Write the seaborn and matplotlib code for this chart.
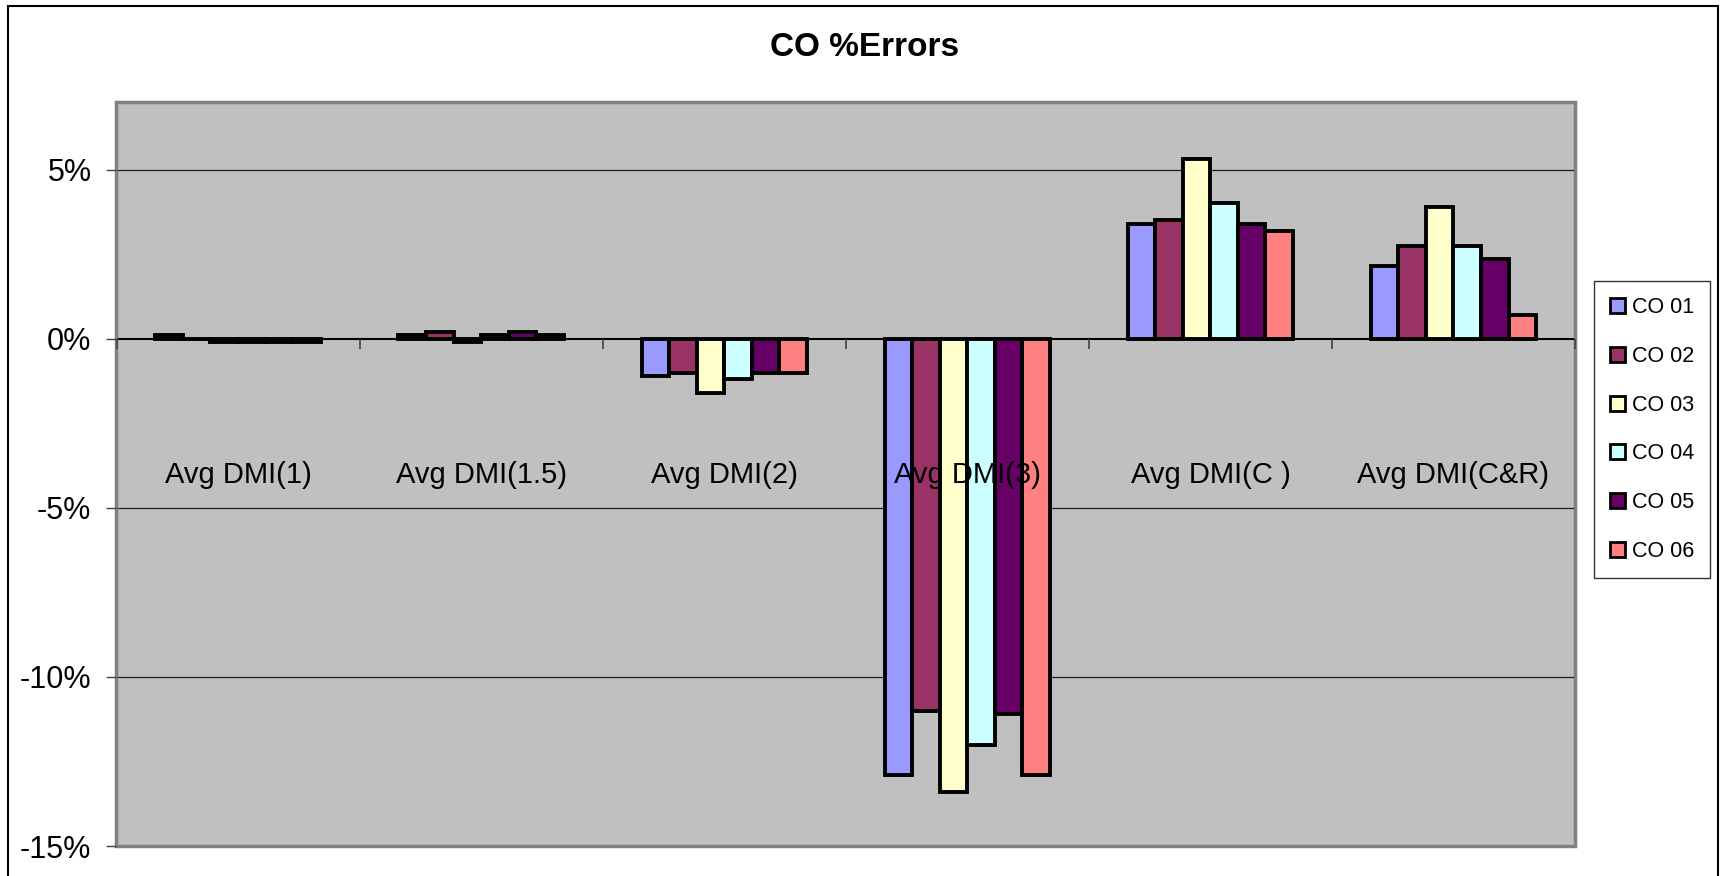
import matplotlib
matplotlib.use('Agg')
import matplotlib.pyplot as plt
from matplotlib.patches import Rectangle, Patch
import numpy as np
import pandas as pd
import seaborn as sns

plt.rcParams['font.family'] = ['Liberation Sans', 'DejaVu Sans']

categories = ['Avg DMI(1)', 'Avg DMI(1.5)', 'Avg DMI(2)', 'Avg DMI(3)', 'Avg DMI(C )', 'Avg DMI(C&R)']
series = ['CO 01', 'CO 02', 'CO 03', 'CO 04', 'CO 05', 'CO 06']

co01 = [0.1, 0.1, -1.1, -12.9, 3.4, 2.15]
co02 = [0.0, 0.2, -1.0, -11.0, 3.5, 2.75]
co03 = [-0.1, -0.1, -1.6, -13.4, 5.3, 3.9]
co04 = [-0.1, 0.1, -1.2, -12.0, 4.0, 2.75]
co05 = [-0.1, 0.2, -1.0, -11.1, 3.4, 2.35]
co06 = [-0.1, 0.1, -1.0, -12.9, 3.2, 0.7]

colors = ['#9999FF', '#993366', '#FFFFCC', '#CCFFFF', '#660066', '#FF8080']
yticks = [-15, -10, -5, 0, 5]

values = [co01, co02, co03, co04, co05, co06]
df = pd.DataFrame({
    'category': np.tile(categories, len(series)),
    'series': np.repeat(series, len(categories)),
    'value': np.concatenate(values),
})

W, H = 1723, 876
fig = plt.figure(figsize=(W / 100, H / 100), dpi=100)
ax = fig.add_axes([116.5 / W, 1 - 846 / H, (1575 - 116.5) / W, (846 - 102) / H])
ax.set_facecolor('#C0C0C0')

sns.barplot(data=df, x='category', y='value', hue='series', order=categories,
            hue_order=series, palette=colors, width=0.68, edgecolor='black',
            linewidth=2.8, saturation=1, errorbar=None, legend=False, ax=ax,
            zorder=2)
# category labels sit on top of the bars, as in the original
ax.set_axisbelow(False)

ax.set_xlim(-0.5, len(categories) - 0.5)
ax.set_ylim(-15, 7)

# grid
for y in yticks:
    if y not in (0, -15):
        ax.axhline(y, color='#202020', linewidth=0.9, zorder=1)

ax.set_yticks(yticks)
ax.set_yticklabels([f'{y}%' for y in yticks], fontsize=22)
ax.tick_params(axis='y', length=7, width=1, color='#404040', pad=11)

# category axis crossing at zero
ax.spines['bottom'].set_position(('data', 0))
ax.spines['bottom'].set_color('black')
ax.spines['bottom'].set_linewidth(1.5)
ax.spines['bottom'].set_zorder(2.2)
for side in ['top', 'right', 'left']:
    ax.spines[side].set_color('#808080')
    ax.spines[side].set_linewidth(2)
ax.patch.set_edgecolor('#808080')
ax.patch.set_linewidth(2.5)

ax.set_xticks(np.arange(len(categories)))
ax.set_xticklabels(categories, fontsize=21)
ax.set_xticks(np.arange(-0.5, len(categories), 1), minor=True)
ax.tick_params(axis='x', which='major', length=0, pad=88)
ax.tick_params(axis='x', which='minor', length=7, width=1.2, color='#404040')
ax.set_xlabel('')
ax.set_ylabel('')

fig.text(865 / W, 1 - 48 / H, 'CO %Errors', fontsize=24, fontweight='bold',
         ha='center', va='center')

handles = [Patch(facecolor=c, edgecolor='black', linewidth=2) for c in colors]
leg = fig.legend(handles, series, loc='upper left',
                 bbox_to_anchor=(1594 / W, 1 - 281 / H),
                 prop={'size': 15.5},
                 handlelength=0.7, handleheight=0.7, handletextpad=0.3,
                 labelspacing=1.29, borderpad=0.75, frameon=True, fancybox=False,
                 borderaxespad=0)
leg.get_frame().set_edgecolor('black')
leg.get_frame().set_linewidth(1)

fig.patches.append(Rectangle((8 / W, -0.02), (1718 - 8) / W, 1.02 - 6 / H,
                             transform=fig.transFigure, fill=False,
                             edgecolor='black', linewidth=1.5))

fig.savefig('out.png', dpi=100)
